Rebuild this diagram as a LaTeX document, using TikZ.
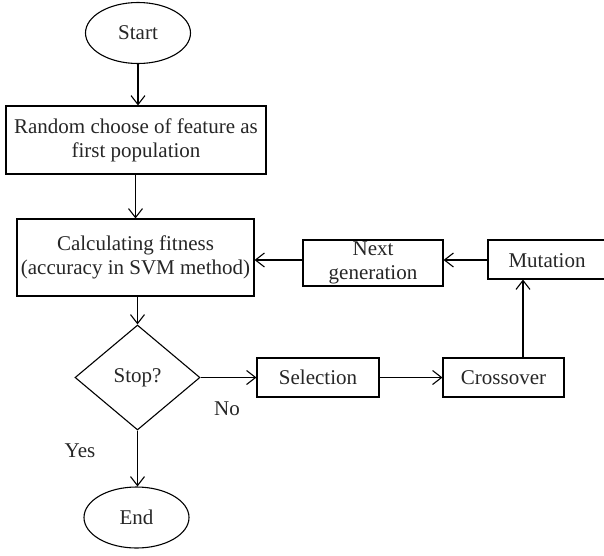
\documentclass[tikz,border=0pt]{standalone}
\usepackage{fontspec}
\setmainfont{Liberation Serif}
\usetikzlibrary{shapes.geometric,arrows.meta}
\begin{document}
\begin{tikzpicture}[x=1pt,y=-1pt,
  every node/.style={font=\fontsize{21}{24}\selectfont, text=black!85, inner sep=0pt, align=center},
  box/.style={draw, line width=1.1pt, rectangle},
  oval/.style={draw, line width=1.1pt, ellipse},
  dia/.style={draw, line width=1.1pt, diamond},
  conn/.style={line width=1.1pt, -{Straight Barb[length=9pt,width=14pt,line width=1.1pt]}}]
\useasboundingbox (0,0) rectangle (604,555);
\clip (0,0) rectangle (604,555);
\node[oval, minimum width=105, minimum height=61] (start) at (138,33) {Start};
\node[box, minimum width=260, minimum height=68] (rand) at (136,140) {Random choose of feature as\\first population};
\node[box, minimum width=237, minimum height=77] (calc) at (135.5,257.5) {Calculating fitness\\(accuracy in SVM method)};
\node[dia, minimum width=125, minimum height=105] (stop) at (137.5,377.5) {Stop?};
\node[oval, minimum width=105, minimum height=61] (end) at (136.5,517.5) {End};
\node[box, minimum width=122, minimum height=39] (sel) at (318,377.5) {Selection};
\node[box, minimum width=121, minimum height=39] (cross) at (503.5,377.5) {Crossover};
\node[box, minimum width=124, minimum height=39] (mut) at (550,259.5) {};
\node (muttext) at (547,261) {Mutation};
\node[box, minimum width=140, minimum height=46] (next) at (373,263) {Next\\generation};
\node (yes) at (80,451) {Yes};
\node (no) at (227,409) {No};
\coordinate (xarr) at (523,0);
\coordinate (yarr) at (0,260);
\draw[conn] (start) -- (start.south |- rand.north);
\draw[conn] (rand.south -| calc.north) -- (calc.north);
\draw[conn] (calc.south -| stop.north) -- (stop.north);
\draw[conn] (stop.south) -- (stop.south |- end.north);
\draw[conn] (stop.east) -- (sel.west);
\draw[conn] (sel.east) -- (cross.west);
\draw[conn] (cross.north -| xarr) -- (mut.south -| xarr);
\draw[conn] (mut.west |- yarr) -- (next.east |- yarr);
\draw[conn] (next.west |- yarr) -- (calc.east |- yarr);
\end{tikzpicture}
\end{document}
